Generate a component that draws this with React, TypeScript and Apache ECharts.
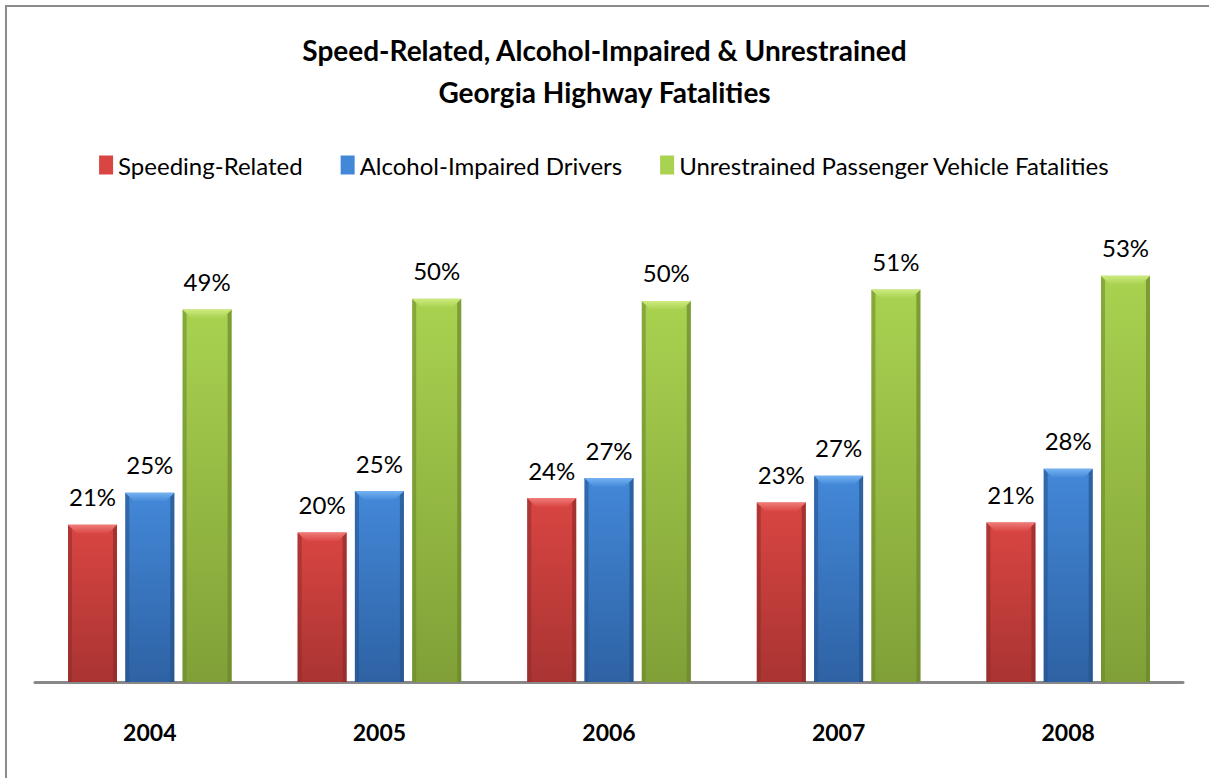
import React, { useEffect, useRef } from "react";
import * as echarts from "echarts";

const years = ["2004", "2005", "2006", "2007", "2008"];
const speeding = [20.5, 19.5, 24.0, 23.4, 20.8];
const alcohol = [24.7, 24.9, 26.6, 26.9, 27.8];
const unrestrained = [48.6, 50.0, 49.7, 51.2, 53.0];
const seriesNames = [
  "Speeding-Related",
  "Alcohol-Impaired Drivers",
  "Unrestrained Passenger Vehicle Fatalities",
];
const titleLines = [
  "Speed-Related, Alcohol-Impaired & Unrestrained",
  "Georgia Highway Fatalities",
];

const palettes = [
  { top: "#D94542", bottom: "#A93432", bevel: "#EF7C78", edge: "#8E2B29" },
  { top: "#4388D8", bottom: "#2E62A4", bevel: "#74B2F2", edge: "#27528A" },
  { top: "#A9D250", bottom: "#80A037", bevel: "#CDEB7E", edge: "#69862C" },
];

const BAR_W = 49;
const BAR_GAP = 8.3;

export default function App() {
  const ref = useRef<HTMLDivElement>(null);
  useEffect(() => {
    if (!ref.current) return;
    const chart = echarts.init(ref.current, undefined, { renderer: "svg" });
    const datasets = [speeding, alcohol, unrestrained];

    const makeRender = (si: number) => (params: any, api: any) => {
      const p = palettes[si];
      const cat = api.value(0);
      const val = api.value(1);
      const topPt = api.coord([cat, val]);
      const basePt = api.coord([cat, 0]);
      const cx = topPt[0] + (si - 1) * (BAR_W + BAR_GAP);
      const x = cx - BAR_W / 2;
      const y = topPt[1];
      const h = basePt[1] - topPt[1];
      const e = 4;
      const b = 9;
      return {
        type: "group",
        children: [
          {
            type: "rect",
            shape: { x, y, width: BAR_W, height: h },
            style: {
              fill: new echarts.graphic.LinearGradient(0, 0, 0, 1, [
                { offset: 0, color: p.top },
                { offset: 1, color: p.bottom },
              ]),
            },
            textContent: {
              style: {
                text: `${Math.round(val)}%`,
                fontFamily: "Lato",
                fontSize: 24,
                fill: "#000",
              },
            },
            textConfig: { position: "top", distance: 16 },
          },
          {
            type: "polygon",
            shape: { points: [[x, y], [x + e, y + e], [x + e, y + h], [x, y + h]] },
            style: { fill: p.edge, opacity: 0.55 },
          },
          {
            type: "polygon",
            shape: {
              points: [
                [x + BAR_W, y],
                [x + BAR_W - e, y + e],
                [x + BAR_W - e, y + h],
                [x + BAR_W, y + h],
              ],
            },
            style: { fill: p.edge, opacity: 0.7 },
          },
          {
            type: "polygon",
            shape: {
              points: [
                [x, y],
                [x + BAR_W, y],
                [x + BAR_W - b, y + b],
                [x + b, y + b],
              ],
            },
            style: {
              fill: new echarts.graphic.LinearGradient(0, 0, 0, 1, [
                { offset: 0, color: p.bevel },
                { offset: 1, color: p.top },
              ]),
            },
          },
        ],
      };
    };

    chart.setOption({
      animation: false,
      backgroundColor: "#ffffff",
      title: {
        text: titleLines.join("\n"),
        left: "center",
        top: 24,
        textStyle: {
          fontFamily: "Lato",
          fontWeight: "bold",
          fontSize: 28,
          lineHeight: 42,
          color: "#000",
        },
      },
      legend: {
        left: "center",
        top: 148,
        itemWidth: 14,
        itemHeight: 19,
        itemGap: 38,
        icon: "rect",
        textStyle: { fontFamily: "Lato", fontSize: 24, color: "#000" },
        data: seriesNames,
      },
      graphic: [
        {
          type: "polyline",
          shape: { points: [[6, 790], [6, 6], [1220, 6]] },
          style: { fill: "none", stroke: "#8c8c8c", lineWidth: 2 },
          silent: true,
        },
      ],
      grid: { left: 35, right: 26, top: 222, bottom: 96 },
      xAxis: {
        type: "category",
        data: years,
        axisLine: { lineStyle: { color: "#888", width: 3 } },
        axisTick: { show: false },
        axisLabel: {
          fontFamily: "Lato",
          fontWeight: "bold",
          fontSize: 23,
          color: "#000",
          margin: 38,
        },
      },
      yAxis: {
        type: "value",
        min: 0,
        max: 60,
        show: false,
        splitLine: { show: false },
      },
      series: datasets.map((d, i) => ({
        name: seriesNames[i],
        type: "custom",
        data: d.map((v, j) => [j, v]),
        encode: { x: 0, y: 1 },
        itemStyle: { color: palettes[i].top },
        renderItem: makeRender(i),
        z: 2,
      })),
    });
    return () => chart.dispose();
  }, []);
  return (
    <div
      ref={ref}
      style={{ position: "absolute", left: 0, top: 0, width: 1209, height: 778 }}
    />
  );
}
